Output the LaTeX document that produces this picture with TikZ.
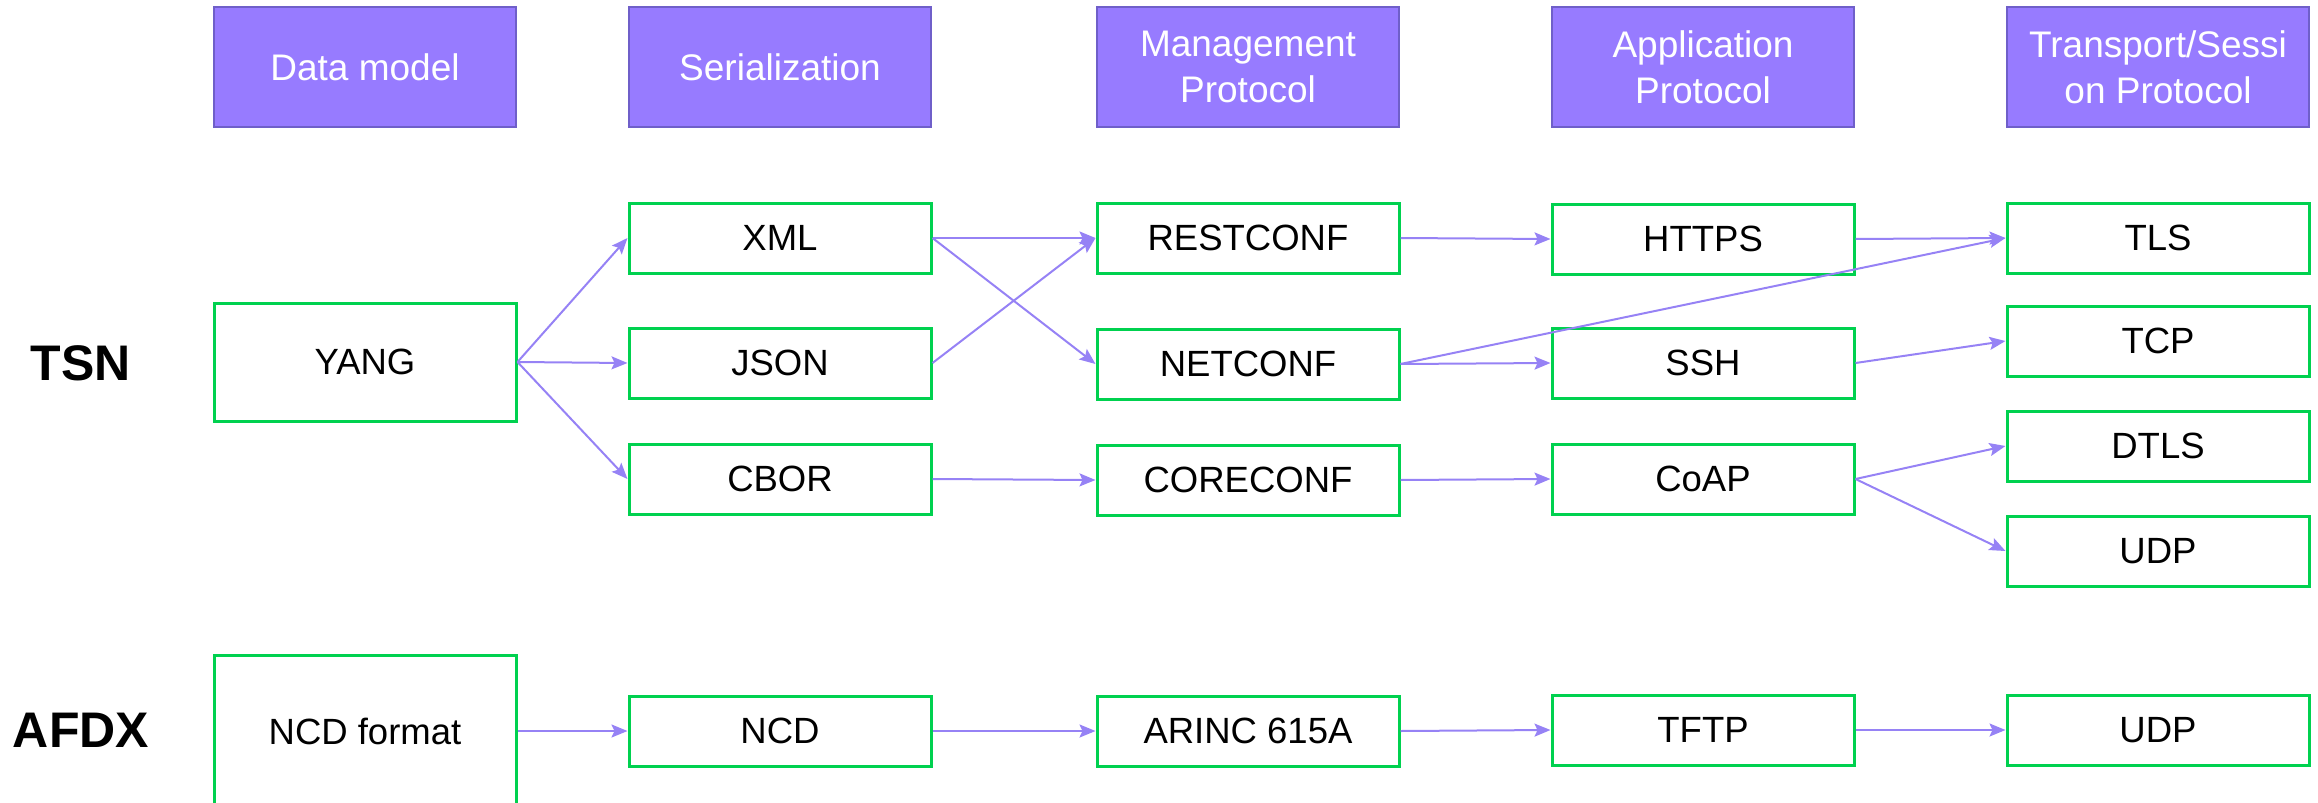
\documentclass[tikz,border=0pt]{standalone}
\usepackage{fontspec}
\setmainfont{Liberation Sans}
\usetikzlibrary{arrows.meta}
\definecolor{hdrfill}{HTML}{977BFF}
\definecolor{hdrline}{HTML}{6F5FC9}
\definecolor{boxgreen}{HTML}{00D14F}
\definecolor{arrowc}{HTML}{9682F5}
\begin{document}
\begin{tikzpicture}[x=0.5pt,y=-0.5pt,
  hdr/.style={draw=hdrline, line width=1pt, fill=hdrfill, text=white, minimum width=151pt, minimum height=60pt, inner sep=0pt, align=center, font=\fontsize{18.5}{23}\selectfont},
  gbox/.style={draw=boxgreen, line width=1.5pt, minimum width=151pt, minimum height=35pt, inner sep=0pt, font=\fontsize{18.25}{22}\selectfont},
  conn/.style={draw=arrowc, line width=1pt, -{Stealth[length=8pt,width=6.5pt,inset=1.5pt]}},
  rowlbl/.style={font=\bfseries\fontsize{25}{30}\selectfont}]
\useasboundingbox (0,0) rectangle (2318,803);
% headers
\node[hdr] (h1) at (365,67) {Data model};
\node[hdr] (h2) at (780,67) {Serialization};
\node[hdr] (h3) at (1248,67) {Management\\Protocol};
\node[hdr] (h4) at (1703,67) {Application\\Protocol};
\node[hdr] (h5) at (2158,67) {Transport/Sessi\\on Protocol};
% row labels
\node[rowlbl] (tsn) at (81,363) {TSN};
\node[rowlbl] (afdx) at (81,730) {AFDX};
% TSN
\node[gbox, minimum height=59pt] (yang) at (365,362) {YANG};
\node[gbox] (xml) at (780,238) {XML};
\node[gbox] (json) at (780,363) {JSON};
\node[gbox] (cbor) at (780,479) {CBOR};
\node[gbox] (rest) at (1248,238) {RESTCONF};
\node[gbox] (netc) at (1248,364) {NETCONF};
\node[gbox] (corec) at (1248,480) {CORECONF};
\node[gbox] (https) at (1703,239) {HTTPS};
\node[gbox] (ssh) at (1703,363) {SSH};
\node[gbox] (coap) at (1703,479) {CoAP};
\node[gbox] (tls) at (2158,238) {TLS};
\node[gbox] (tcp) at (2158,341) {TCP};
\node[gbox] (dtls) at (2158,446) {DTLS};
\node[gbox] (udp) at (2158,551) {UDP};
% AFDX
\node[gbox, minimum height=76pt] (ncdf) at (365,731) {NCD format};
\node[gbox] (ncd) at (780,731) {NCD};
\node[gbox] (arinc) at (1248,731) {ARINC 615A};
\node[gbox] (tftp) at (1703,730) {TFTP};
\node[gbox] (udp2) at (2158,730) {UDP};
% connectors
\draw[conn] (yang.east) -- (xml.west);
\draw[conn] (yang.east) -- (json.west);
\draw[conn] (yang.east) -- (cbor.west);
\draw[conn] (xml.east) -- (rest.west);
\draw[conn] (xml.east) -- (netc.west);
\draw[conn] (json.east) -- (rest.west);
\draw[conn] (cbor.east) -- (corec.west);
\draw[conn] (rest.east) -- (https.west);
\draw[conn] (netc.east) -- (ssh.west);
\draw[conn] (netc.east) -- (tls.west);
\draw[conn] (corec.east) -- (coap.west);
\draw[conn] (https.east) -- (tls.west);
\draw[conn] (ssh.east) -- (tcp.west);
\draw[conn] (coap.east) -- (dtls.west);
\draw[conn] (coap.east) -- (udp.west);
\draw[conn] (ncdf.east) -- (ncd.west);
\draw[conn] (ncd.east) -- (arinc.west);
\draw[conn] (arinc.east) -- (tftp.west);
\draw[conn] (tftp.east) -- (udp2.west);
\end{tikzpicture}
\end{document}
